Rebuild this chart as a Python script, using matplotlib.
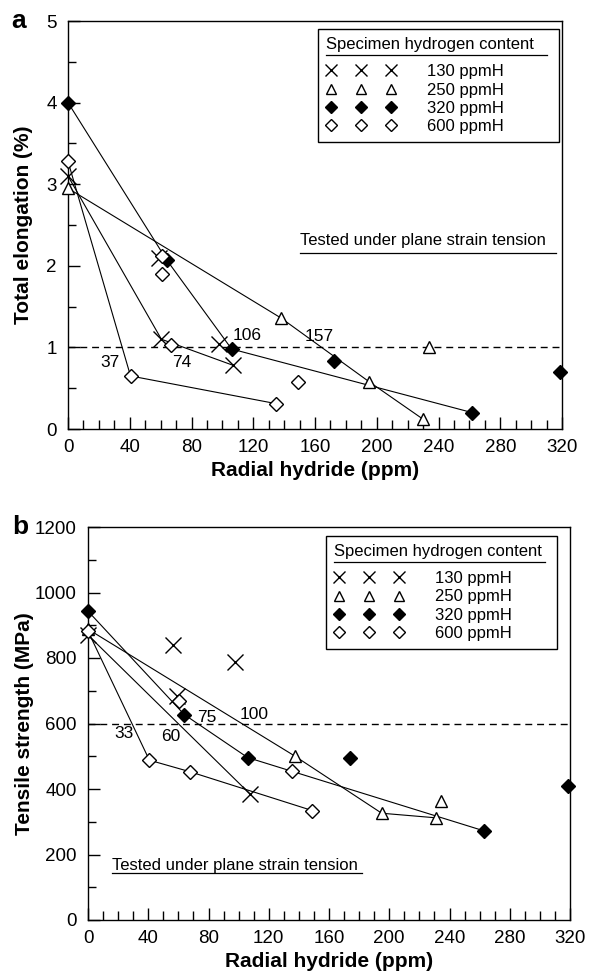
import matplotlib
matplotlib.use('Agg')
import matplotlib.pyplot as plt
from matplotlib.lines import Line2D
from matplotlib.ticker import MultipleLocator

plt.rcParams['font.family'] = ['Liberation Sans', 'DejaVu Sans']

# ---- panel a: total elongation (%) vs radial hydride (ppm) ----
a_130_x = [0, 60.5, 107]
a_130_y = [3.10, 1.10, 0.78]
a_130_xo = [59, 97.5]
a_130_yo = [2.10, 1.04]

a_250_x = [0, 138, 195, 230]
a_250_y = [2.95, 1.36, 0.58, 0.12]
a_250_xo = [234]
a_250_yo = [1.00]

a_320_x = [0, 64, 106, 262]
a_320_y = [4.00, 2.07, 0.98, 0.20]
a_320_xo = [172, 319]
a_320_yo = [0.83, 0.70]

a_600_x = [0, 40.5, 135]
a_600_y = [3.28, 0.65, 0.31]
a_600_xo = [61, 61, 67, 149]
a_600_yo = [2.12, 1.90, 1.03, 0.57]

a_lab = ['37', '74', '106', '157']
a_lab_x = [27.5, 74, 116, 162.5]
a_lab_y = [0.82, 0.82, 1.14, 1.13]

# ---- panel b: tensile strength (MPa) vs radial hydride (ppm) ----
b_130_x = [0, 107.5]
b_130_y = [870, 385]
b_130_xo = [56.5, 59, 97.5]
b_130_yo = [840, 685, 789]

b_250_x = [0, 137.5, 195, 231]
b_250_y = [888, 500, 326, 312]
b_250_xo = [234.5]
b_250_yo = [362]

b_320_x = [0, 64, 106, 263]
b_320_y = [943, 627, 496, 272]
b_320_xo = [174, 319]
b_320_yo = [496, 410]

b_600_x = [0, 40.75, 67.5, 149]
b_600_y = [882, 488, 453, 334]
b_600_xo = [60.5, 135.5]
b_600_yo = [670, 456]

b_lab = ['33', '60', '75', '100']
b_lab_x = [23.75, 55, 78.75, 110.5]
b_lab_y = [568, 561, 617, 627]

legend_labels = ['130 ppmH', '250 ppmH', '320 ppmH', '600 ppmH']

W, H = 590, 973
fig = plt.figure(figsize=(W / 100, H / 100), dpi=100)


def box(l, t, r, b):
    return [l / W, 1 - b / H, (r - l) / W, (b - t) / H]


styles = {
    '130': dict(marker='x', ms=11, mew=1.0, mec='black', mfc='none'),
    '250': dict(marker='^', ms=9, mew=1.0, mec='black', mfc='white'),
    '320': dict(marker='D', ms=7.5, mew=1.0, mec='black', mfc='black'),
    '600': dict(marker='D', ms=7.5, mew=1.0, mec='black', mfc='white'),
}


def draw_series(ax, x, y, xo, yo, st):
    ax.plot(x, y, '-', color='black', lw=0.8, zorder=2)
    ax.plot(x, y, ls='none', zorder=3, clip_on=False, **st)
    ax.plot(xo, yo, ls='none', zorder=3, clip_on=False, **st)


def style_axes(ax, ymax, ymajor, yminor):
    ax.set_xlim(0, 320)
    ax.set_ylim(0, ymax)
    ax.xaxis.set_major_locator(MultipleLocator(40))
    ax.xaxis.set_minor_locator(MultipleLocator(10))
    ax.yaxis.set_major_locator(MultipleLocator(ymajor))
    ax.yaxis.set_minor_locator(MultipleLocator(yminor))
    ax.tick_params(which='both', direction='in', top=False, right=False,
                   width=1.0, labelsize=13.5)
    ax.tick_params(axis='y', which='major', length=8.6, pad=8)
    ax.tick_params(axis='y', which='minor', length=6)
    ax.tick_params(axis='x', which='major', length=8.6, pad=7.5)
    ax.tick_params(axis='x', which='minor', length=6.5)
    for s in ax.spines.values():
        s.set_linewidth(1.0)
    ax.set_xlabel('Radial hydride (ppm)', fontsize=15, fontweight='bold',
                  labelpad=3)


def add_legend(ax, left, top, right):
    handles = [Line2D([], [], ls='none', **dict(styles[k], ms=styles[k]['ms'] * 0.8))
               for k in ['130', '250', '320', '600']]
    leg = ax.legend(handles, legend_labels, title='Specimen hydrogen content',
                    numpoints=3, handlelength=4.2, handletextpad=1.9,
                    labelspacing=0.2, borderpad=0.46, fontsize=12,
                    title_fontsize=12, loc='upper left', mode='expand',
                    bbox_to_anchor=(left / W, 1 - top / H - 0.1,
                                    (right - left) / W, 0.1),
                    bbox_transform=fig.transFigure,
                    borderaxespad=0, fancybox=False, framealpha=1,
                    edgecolor='black', alignment='left')
    leg.get_frame().set_linewidth(1.0)
    leg._legend_box.sep = 9
    return leg


# ---- panel a ----
ax1 = fig.add_axes(box(68, 21, 562, 429))
style_axes(ax1, 5, 1, 0.5)
ax1.axhline(1, color='black', lw=1.0, ls=(0, (5, 3.5)), zorder=1)
draw_series(ax1, a_130_x, a_130_y, a_130_xo, a_130_yo, styles['130'])
draw_series(ax1, a_250_x, a_250_y, a_250_xo, a_250_yo, styles['250'])
draw_series(ax1, a_320_x, a_320_y, a_320_xo, a_320_yo, styles['320'])
draw_series(ax1, a_600_x, a_600_y, a_600_xo, a_600_yo, styles['600'])
for t, x, y in zip(a_lab, a_lab_x, a_lab_y):
    ax1.text(x, y, t, fontsize=12.5, ha='center', va='center')
ax1.text(150, 2.315, 'Tested under plane strain tension', fontsize=12,
         ha='left', va='center')
ax1.plot([150, 316], [2.155, 2.155], color='black', lw=0.9)
ax1.set_ylabel('Total elongation (%)', fontsize=15, fontweight='bold')
ax1.yaxis.set_label_coords(-0.07, 0.5)
ax1.text(-0.10, 1.0, 'a', transform=ax1.transAxes, fontsize=19,
         fontweight='bold', ha='center', va='center')
leg1 = add_legend(ax1, 318, 29, 559)

# ---- panel b ----
ax2 = fig.add_axes(box(88, 527, 570, 920))
style_axes(ax2, 1200, 200, 100)
ax2.axhline(600, color='black', lw=1.0, ls=(0, (5, 3.5)), zorder=1)
draw_series(ax2, b_130_x, b_130_y, b_130_xo, b_130_yo, styles['130'])
draw_series(ax2, b_250_x, b_250_y, b_250_xo, b_250_yo, styles['250'])
draw_series(ax2, b_320_x, b_320_y, b_320_xo, b_320_yo, styles['320'])
draw_series(ax2, b_600_x, b_600_y, b_600_xo, b_600_yo, styles['600'])
for t, x, y in zip(b_lab, b_lab_x, b_lab_y):
    ax2.text(x, y, t, fontsize=12.5, ha='center', va='center')
ax2.text(16, 166, 'Tested under plane strain tension', fontsize=12,
         ha='left', va='center')
ax2.plot([16, 182], [143, 143], color='black', lw=0.9)
ax2.set_ylabel('Tensile strength (MPa)', fontsize=15, fontweight='bold')
ax2.yaxis.set_label_coords(-0.112, 0.5)
ax2.text(-0.141, 1.0, 'b', transform=ax2.transAxes, fontsize=19,
         fontweight='bold', ha='center', va='center')
leg2 = add_legend(ax2, 326, 536, 557)

# underline legend titles
fig.canvas.draw()
r = fig.canvas.get_renderer()
for leg in (leg1, leg2):
    bb = leg.get_title().get_window_extent(r)
    fb = leg.get_frame().get_window_extent(r)
    y = bb.y0 - 3
    fig.add_artist(Line2D([bb.x0 / W, (fb.x1 - 12) / W], [y / H, y / H],
                          color='black', lw=0.9, transform=fig.transFigure))

fig.savefig('out.png', dpi=100)
